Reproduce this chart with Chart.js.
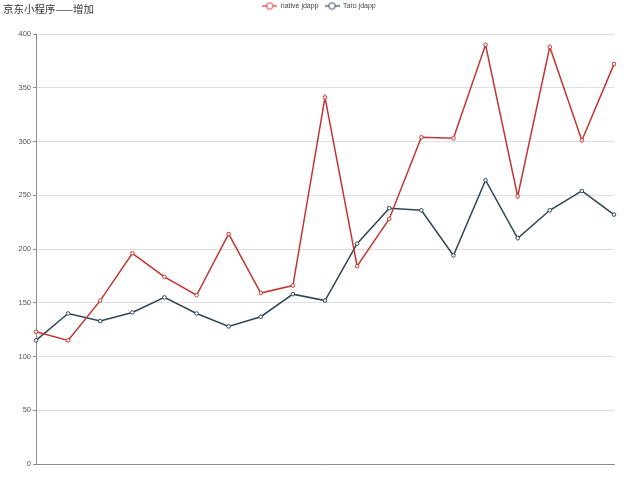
<!DOCTYPE html>
<html>
<head>
<meta charset="utf-8">
<script src="https://cdn.jsdelivr.net/npm/chart.js@4.4.1/dist/chart.umd.min.js"></script>
<style>
  html, body { margin: 0; padding: 0; background: #fff; }
  #wrap { position: relative; width: 640px; height: 479px; }
  #title { position: absolute; left: 3px; top: 1px; font: 10.5px "Noto Sans CJK SC", sans-serif; color: #333; line-height: 15px; }
  canvas { display: block; }
</style>
</head>
<body>
<div id="wrap">
  <canvas id="c" width="640" height="479"></canvas>
  <div id="title">京东小程序——增加</div>
</div>
<script>
const categories = ['1','2','3','4','5','6','7','8','9','10','11','12','13','14','15','16','17','18','19'];
const seriesNames = ['native jdapp', 'Taro jdapp'];
const nativeValues = [123, 115, 152, 196, 174, 157, 214, 159, 166, 341, 184, 228, 304, 303, 390, 249, 388, 301, 372];
const taroValues = [115, 140, 133, 141, 155, 140, 128, 137, 158, 152, 205, 238, 236, 194, 264, 210, 236, 254, 232];
const yTicks = [0, 50, 100, 150, 200, 250, 300, 350, 400];

const colors = ['#c23531', '#2f4554'];

function legendIcon(color) {
  const c = document.createElement('canvas');
  c.width = 15; c.height = 9;
  const g = c.getContext('2d');
  g.strokeStyle = color; g.lineWidth = 1.2;
  g.beginPath(); g.moveTo(0, 4.5); g.lineTo(15, 4.5); g.stroke();
  g.beginPath(); g.arc(7.5, 4.5, 3.2, 0, Math.PI * 2);
  g.fillStyle = '#fff'; g.fill(); g.lineWidth = 1; g.stroke();
  return c;
}
const icons = colors.map(legendIcon);

const legendFont = { family: '"Liberation Sans", Arial, sans-serif', size: 7 };
const tickFont = { family: '"Liberation Sans", Arial, sans-serif', size: 7.5 };

const legendShift = {
  id: 'legendShift',
  afterUpdate(chart) {
    const lg = chart.legend;
    if (!lg || !lg.legendHitBoxes || !lg.legendHitBoxes.length) return;
    const hb = lg.legendHitBoxes[0];
    const d = (hb.top + hb.height / 2) - 6;
    const dx = 12;
    lg.top -= d; lg.bottom -= d;
    lg.left += dx; lg.right += dx;
    lg.legendHitBoxes.forEach(b => { b.top -= d; b.left += dx; });
  }
};

new Chart(document.getElementById('c'), {
  type: 'line',
  data: {
    labels: categories,
    datasets: [
      { label: seriesNames[0], data: nativeValues, borderColor: colors[0], backgroundColor: '#fff',
        borderWidth: 1.5, pointRadius: 1.8, pointBorderWidth: 1, pointBackgroundColor: '#fff', pointBorderColor: colors[0], tension: 0 },
      { label: seriesNames[1], data: taroValues, borderColor: colors[1], backgroundColor: '#fff',
        borderWidth: 1.5, pointRadius: 1.8, pointBorderWidth: 1, pointBackgroundColor: '#fff', pointBorderColor: colors[1], tension: 0 }
    ]
  },
  plugins: [legendShift],
  options: {
    responsive: false,
    animation: false,
    layout: { padding: { left: 0, right: 26, top: 11, bottom: 15 } },
    plugins: {
      title: { display: false },
      tooltip: { enabled: false },
      legend: {
        display: true,
        position: 'top',
        align: 'center',
        labels: {
          font: legendFont,
          color: '#444',
          usePointStyle: true,
          pointStyleWidth: 15,
          padding: 6,
          generateLabels(chart) {
            const items = Chart.defaults.plugins.legend.labels.generateLabels(chart);
            items.forEach((it, i) => { it.pointStyle = icons[i]; });
            return items;
          }
        }
      }
    },
    scales: {
      x: {
        type: 'category',
        offset: false,
        ticks: { display: false },
        grid: { display: false, drawTicks: false },
        border: { display: true, color: '#8c8c8c', width: 1 }
      },
      y: {
        min: 0, max: 400,
        afterBuildTicks(scale) { scale.ticks = yTicks.map(v => ({ value: v })); },
        afterFit(scale) { scale.width = 36; },
        ticks: { font: tickFont, color: '#555', padding: 2 },
        grid: { color: '#dedede', tickColor: '#8c8c8c', tickLength: 3, lineWidth: 1 },
        border: { display: true, color: '#8c8c8c', width: 1 }
      }
    }
  }
});
</script>
</body>
</html>
